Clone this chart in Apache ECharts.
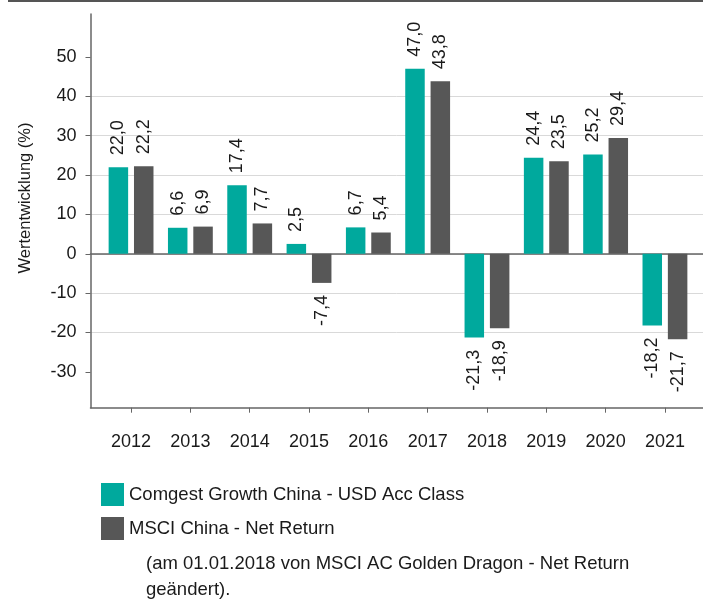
<!DOCTYPE html>
<html>
<head>
<meta charset="utf-8">
<script src="https://cdn.jsdelivr.net/npm/echarts@6/dist/echarts.min.js"></script>
<style>
  html, body { margin: 0; padding: 0; background: #fff; }
  #chart-container { width: 703px; height: 599px; }
</style>
</head>
<body>
<div id="chart-container"></div>
<script>
// Jahre und Werte (in %)
var jahre = ['2012', '2013', '2014', '2015', '2016', '2017', '2018', '2019', '2020', '2021'];
var comgest = [22.0, 6.6, 17.4, 2.5, 6.7, 47.0, -21.3, 24.4, 25.2, -18.2];
var msci = [22.2, 6.9, 7.7, -7.4, 5.4, 43.8, -18.9, 23.5, 29.4, -21.7];
var yTicks = [-30, -20, -10, 0, 10, 20, 30, 40, 50];

var nameComgest = 'Comgest Growth China - USD Acc Class';
var nameMsci = 'MSCI China - Net Return';
var fuss = '(am 01.01.2018 von MSCI AC Golden Dragon - Net Return\ngeändert).';

var font = '"Liberation Sans", Arial, sans-serif';
var yMin = -39.1, yMax = 60.9;

// Werte mit Komma formatieren, Beschriftung je nach Vorzeichen ausrichten
function toItems(arr) {
  return arr.map(function (v) {
    return { value: v, label: { align: v < 0 ? 'right' : 'left' } };
  });
}

var chart = echarts.init(document.getElementById('chart-container'));

var barLabel = {
  show: true,
  position: 'outside',
  rotate: 90,
  verticalAlign: 'middle',
  distance: 12,
  fontSize: 18,
  fontFamily: font,
  color: '#1a1a1a',
  formatter: function (p) { return p.value.toFixed(1).replace('.', ','); }
};

var options = {
  animation: false,
  color: ['#00a99d', '#575757'],
  textStyle: { fontFamily: font },
  grid: [
    { left: 101.4, right: 8.4, top: 14, bottom: 191.3 },
    { left: 90.5, right: 0, top: 14, bottom: 191.3 }
  ],
  legend: {
    orient: 'vertical',
    left: 96,
    top: 478,
    icon: 'rect',
    itemWidth: 23,
    itemHeight: 23,
    itemGap: 11,
    selectedMode: false,
    textStyle: { fontSize: 18.5, fontFamily: font, color: '#1a1a1a' },
    data: [nameComgest, nameMsci]
  },
  xAxis: [
    {
      gridIndex: 0,
      type: 'category',
      data: jahre,
      axisLine: { show: false, onZero: false },
      axisTick: { show: true, alignWithLabel: true, length: 5, lineStyle: { color: '#666' } },
      axisLabel: { fontSize: 18, fontFamily: font, color: '#1a1a1a', margin: 25 },
      splitLine: { show: false }
    },
    {
      gridIndex: 1,
      type: 'value', min: 0, max: 1,
      axisLine: { show: true, onZero: false, lineStyle: { color: '#666', width: 1.5 } },
      axisTick: { show: false }, axisLabel: { show: false }, splitLine: { show: false }
    },
    {
      gridIndex: 1,
      type: 'value', min: 0, max: 1, position: 'top',
      axisLine: { show: true, onZero: true, lineStyle: { color: '#666', width: 1.5 } },
      axisTick: { show: false }, axisLabel: { show: false }, splitLine: { show: false }
    }
  ],
  yAxis: [
    { gridIndex: 0, type: 'value', min: yMin, max: yMax, show: false },
    {
      gridIndex: 1,
      type: 'value', min: yMin, max: yMax,
      axisLine: { show: true, onZero: false, lineStyle: { color: '#666', width: 1.5 } },
      axisTick: { show: true, length: 5, customValues: yTicks, lineStyle: { color: '#666' } },
      axisLabel: {
        customValues: yTicks,
        fontSize: 18, fontFamily: font, color: '#1a1a1a', margin: 14,
        padding: [9, 0, 0, 0]
      },
      splitLine: { show: true, showMinLine: false, showMaxLine: false, lineStyle: { color: '#d9d9d9', width: 1 } }
    }
  ],
  graphic: [
    { type: 'rect', left: 8, top: 0, shape: { width: 695, height: 2 }, style: { fill: '#555' } },
    {
      type: 'text', x: 25, y: 198, rotation: Math.PI / 2,
      style: { text: 'Wertentwicklung (%)', fontSize: 16.5, fontFamily: font, fill: '#1a1a1a', align: 'center', verticalAlign: 'middle' }
    },
    {
      type: 'text', x: 146, y: 551,
      style: { text: fuss, fontSize: 18.5, fontFamily: font, fill: '#1a1a1a', lineHeight: 26, align: 'left', verticalAlign: 'top' }
    }
  ],
  series: [
    {
      name: nameComgest, type: 'bar', xAxisIndex: 0, yAxisIndex: 0,
      barWidth: 19.5, barGap: '30%',
      label: barLabel,
      data: toItems(comgest)
    },
    {
      name: nameMsci, type: 'bar', xAxisIndex: 0, yAxisIndex: 0,
      barWidth: 19.5, barGap: '30%',
      label: barLabel,
      data: toItems(msci)
    }
  ]
};

chart.setOption(options);
</script>
</body>
</html>
